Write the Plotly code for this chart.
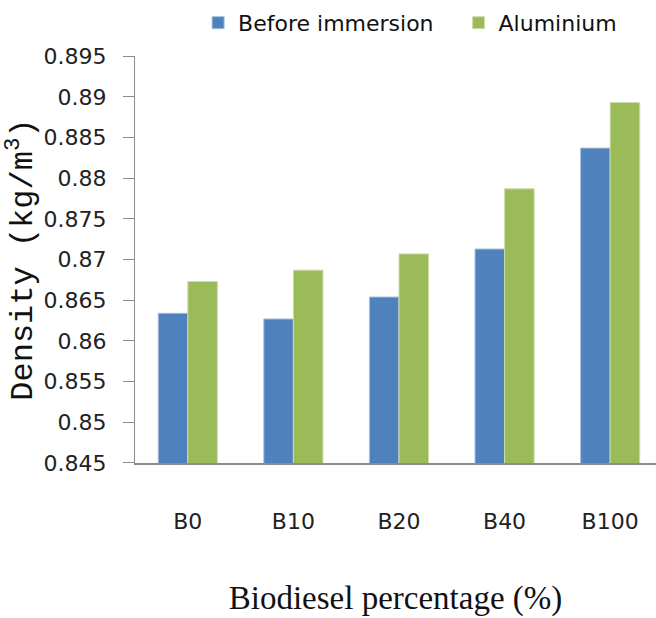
import plotly.graph_objects as go

categories = ["B0", "B10", "B20", "B40", "B100"]
before_immersion = [0.8634, 0.8627, 0.8654, 0.8713, 0.8837]
aluminium = [0.8673, 0.8687, 0.8707, 0.8787, 0.8893]
series_names = ["Before immersion", "Aluminium"]
colors = ["#4F81BD", "#9BBB59"]

fig = go.Figure()
fig.add_trace(go.Bar(x=categories, y=before_immersion, name=series_names[0], legend="legend",
                     marker=dict(color=colors[0], line=dict(color="#A7C0DE", width=1))))
fig.add_trace(go.Bar(x=categories, y=aluminium, name=series_names[1], legend="legend2",
                     marker=dict(color=colors[1], line=dict(color="#CDDDAC", width=1))))

legend_style = dict(orientation="h", xanchor="left", xref="container",
                    y=0.963, yanchor="middle", yref="container",
                    font=dict(size=22, family="DejaVu Sans", color="#111111"),
                    itemwidth=30, bgcolor="rgba(0,0,0,0)")

fig.update_layout(
    width=656, height=618,
    margin=dict(l=135, r=0, t=53, b=155),
    paper_bgcolor="white", plot_bgcolor="white",
    barmode="group", bargap=0.44, bargroupgap=0,
    font=dict(family="DejaVu Sans", color="#222222"),
    legend=dict(x=0.302, **legend_style),
    legend2=dict(x=0.699, **legend_style),
    showlegend=True,
)
fig.update_xaxes(
    range=[-0.5, 4.434], showline=True, linecolor="#8C8C8C", linewidth=2,
    ticks="", showgrid=False, tickfont=dict(size=22, color="#222222"),
    ticklabelstandoff=38,
    title=dict(text="Biodiesel percentage (%)", font=dict(family="Liberation Serif", size=33, color="#111111"),
               standoff=52),
)
fig.update_yaxes(
    range=[0.845, 0.895], dtick=0.005, tick0=0.845, showline=True, linecolor="#8C8C8C", linewidth=1,
    ticks="outside", ticklen=11, tickcolor="#8C8C8C", showgrid=False, zeroline=False,
    tickfont=dict(size=22, color="#222222"), ticklabelstandoff=12,
    title=dict(text="Density (kg/m<sup>3</sup>)", font=dict(family="Liberation Mono", size=32, color="#111111"),
               standoff=8),
)

fig.write_html("out.html")
